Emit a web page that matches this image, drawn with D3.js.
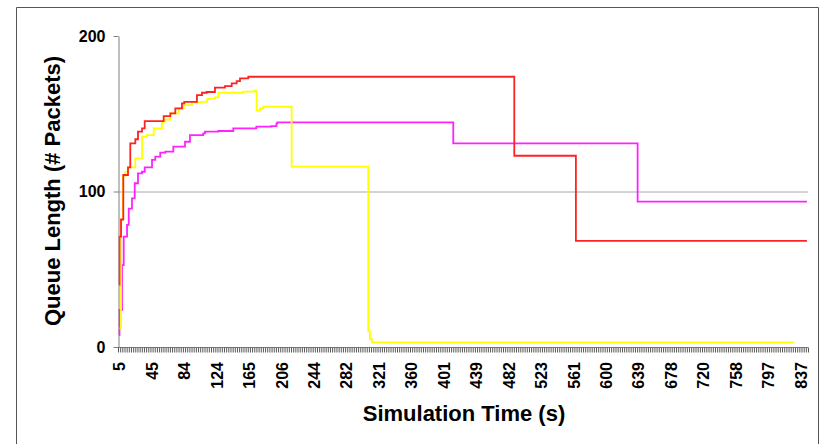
<!DOCTYPE html>
<html>
<head>
<meta charset="utf-8">
<script src="https://cdn.jsdelivr.net/npm/d3@7"></script>
<style>
  body { margin: 0; background: #fff; }
  text { font-family: "Liberation Sans", Arial, sans-serif; font-weight: bold; fill: #000; }
</style>
</head>
<body>
<script>
const WIDTH = 822
const HEIGHT = 444

// category labels on the time axis (every 15th category)
const timeLabels = [5, 45, 84, 124, 165, 206, 244, 282, 321, 360, 401, 439, 482, 523, 561, 600, 639, 678, 720, 758, 797, 837]
const yTicks = [0, 100, 200]

// queue length steps : [time (s), packets]
const redSteps = [
    [5, 40], [5.5, 71], [7.4, 82], [10.2, 110.6], [16, 115.5], [18.8, 131], [25, 133.6],
    [28.3, 138.5], [33.3, 140.6], [36.6, 145.3], [59.6, 148.5], [67.6, 150.3], [73.6, 153.5],
    [81.6, 156.7], [84.4, 157.7], [100, 162], [106.2, 163.5], [112, 164], [122.2, 166.8],
    [134.8, 167.8], [143.3, 169.5], [149.6, 171], [153.8, 172.8], [164.3, 173.8],
    [489.4, 123], [564.1, 68.2], [845, 68.2]
]
const yellowSteps = [
    [5, 12], [7.4, 81.7], [9.8, 110], [12.7, 112.7], [16, 115.5], [25, 121.3], [33.3, 135.2],
    [39.4, 136.3], [47.6, 140.6], [57.6, 144.9], [61.5, 146.3], [67.6, 150.3], [77.7, 153.5],
    [83.7, 155.6], [93.9, 157.3], [104.1, 157.7], [112.4, 159.2], [114, 159.7], [122.2, 160.5],
    [126.4, 163.5], [158, 164.2], [172.7, 164.8], [174.8, 152], [179, 153.5], [183.2, 154.5],
    [218.1, 116], [308.5, 10], [310.5, 5], [312.9, 3], [829.3, 3]
]
const magentaSteps = [
    [5, 7.7], [5.5, 23.8], [8.6, 52.7], [10.7, 71], [14.8, 78.5], [16.9, 89], [20.9, 95.6],
    [24.3, 105.3], [28.3, 111.7], [33.3, 112.7], [36.6, 115.5], [45.6, 120.3], [49.5, 122.4],
    [55.5, 125], [61.5, 125.6], [71.2, 128.8], [85.3, 132], [91.4, 136.3], [107.8, 137.4],
    [109.9, 138.5], [126.4, 138.9], [145.3, 140.6], [174.5, 141.7], [193.4, 142],
    [199.9, 143.8], [201.2, 144.5], [412.4, 131], [638.3, 93.5], [845, 93.5]
]

const series = [
    { steps: magentaSteps, color: "#ff22ff" },
    { steps: yellowSteps, color: "#ffff00" },
    { steps: redSteps, color: "#ff2222" }
]

// plot area
const LEFT = 118
const RIGHT = 808
const TOP = 36
const BOTTOM = 347
const N_CATS = 319
const STEP = (RIGHT - LEFT) / N_CATS

const svg = d3.select("body")
    .append("svg")
    .attr("width", WIDTH)
    .attr("height", HEIGHT)

// cadre
svg.append("path")
    .attr("d", `M16.5,${HEIGHT} V7.5 H818.5 V${HEIGHT}`)
    .attr("fill", "none")
    .attr("stroke", "#555")

// category axis: labels evenly spaced, like a category chart
const x = d3.scaleLinear()
    .domain(timeLabels)
    .range(timeLabels.map((d, i) => LEFT + (i * 15 + 0.5) * STEP))

const y = d3.scaleLinear()
    .domain([0, 200])
    .range([BOTTOM, TOP])

// gridline at 100
svg.append("line")
    .attr("x1", LEFT).attr("x2", RIGHT)
    .attr("y1", y(100) + 0.5).attr("y2", y(100) + 0.5)
    .attr("stroke", "#a8a8a8")

// lines
const line = d3.line()
    .x(d => x(d[0]))
    .y(d => y(d[1]))
    .curve(d3.curveStepAfter)

svg.selectAll(".serie")
    .data(series)
    .enter()
    .append("path")
    .attr("class", "serie")
    .attr("d", d => line(d.steps))
    .attr("fill", "none")
    .attr("stroke", d => d.color)
    .attr("stroke-width", 1.8)

// y axis
const yAxis = svg.append("g")
    .attr("transform", `translate(${LEFT + 0.5},0)`)
    .call(d3.axisLeft(y).tickValues(yTicks).tickSize(5).tickSizeOuter(0))
yAxis.select(".domain").attr("stroke", "#808080")
yAxis.selectAll(".tick line").attr("stroke", "#808080")
yAxis.selectAll(".tick text")
    .attr("x", -13)
    .style("font-size", "16px")
    .style("font-family", "Liberation Sans, Arial, sans-serif")
    .style("font-weight", "bold")

// x axis line + minor ticks
const xAxis = svg.append("g").attr("transform", `translate(0,${BOTTOM + 0.5})`)
xAxis.append("line")
    .attr("x1", LEFT).attr("x2", RIGHT)
    .attr("stroke", "#808080")
xAxis.selectAll(".minor")
    .data(d3.range(N_CATS + 1))
    .enter()
    .append("line")
    .attr("class", "minor")
    .attr("x1", i => LEFT + i * STEP + 0.5)
    .attr("x2", i => LEFT + i * STEP + 0.5)
    .attr("y1", 0).attr("y2", 5)
    .attr("stroke", "#444")
    .attr("stroke-width", 0.9)

// x labels
const xLabels = svg.append("g")
    .attr("transform", `translate(0,${BOTTOM})`)
    .call(d3.axisBottom(x).tickValues(timeLabels).tickSize(0).tickFormat(d3.format("d")))
xLabels.select(".domain").remove()
xLabels.selectAll(".tick text")
    .attr("transform", "rotate(-90)")
    .attr("x", -15)
    .attr("y", 0)
    .attr("dy", "0.36em")
    .style("text-anchor", "end")
    .style("font-size", "16px")
    .style("font-family", "Liberation Sans, Arial, sans-serif")
    .style("font-weight", "bold")

// titres
svg.append("text")
    .attr("transform", "translate(60,191) rotate(-90)")
    .attr("text-anchor", "middle")
    .style("font-size", "22px")
    .text("Queue Length (# Packets)")

svg.append("text")
    .attr("x", 464)
    .attr("y", 421)
    .attr("text-anchor", "middle")
    .style("font-size", "22px")
    .text("Simulation Time (s)")
</script>
</body>
</html>
